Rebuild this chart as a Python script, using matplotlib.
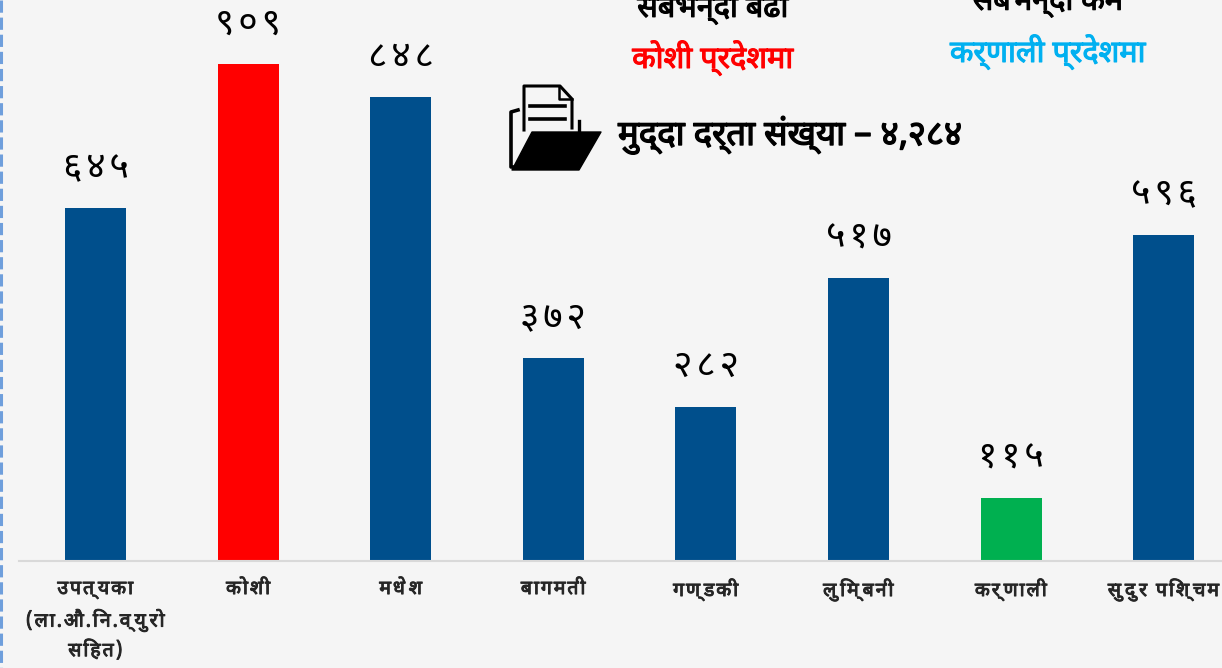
import matplotlib
matplotlib.use("Agg")
import matplotlib.pyplot as plt
import matplotlib.patheffects as pe
from matplotlib.lines import Line2D
from matplotlib.patches import Polygon

W, H = 1222, 668
BG = "#F5F5F5"
plt.rcParams["font.family"] = ["Noto Sans Devanagari", "Noto Sans", "DejaVu Sans"]

categories = ["उपत्यका\n(ला.औ.नि.व्युरो\nसहित)", "कोशी", "मधेश", "बागमती",
              "गण्डकी", "लुम्बिनी", "कर्णाली", "सुदुर पश्चिम"]
values = [645, 909, 848, 372, 282, 517, 115, 596]
bar_colors = ["#004F8C", "#FF0000", "#004F8C", "#004F8C",
              "#004F8C", "#004F8C", "#00B050", "#004F8C"]
title_text = "मुद्दा दर्ता संख्या – ४,२८४"
most_text = ["सबभन्दा बढी", "कोशी प्रदेशमा"]
least_text = ["सबभन्दा कम", "कर्णाली प्रदेशमा"]

DIGITS = str.maketrans("0123456789", "०१२३४५६७८९")
CONS = set("कखगघङचछजझञटठडढणतथदधनपफबभमयरलवशषसह")
HALANT = "्"


def visual(s):
    # matplotlib does no shaping, so put the i-matra in front of its cluster
    out = []
    for c in s:
        if c == "ि" and out:
            j = len(out) - 1
            while j >= 2 and out[j - 1] == HALANT and out[j - 2] in CONS:
                j -= 2
            out.insert(j, c)
        else:
            out.append(c)
    return "".join(out)


def spaced(s):
    return "\u200a".join(s)


def heavy(t, color, lw=0.8):
    # the Devanagari face has no bold here, thicken it with a stroke
    t.set_path_effects([pe.withStroke(linewidth=lw, foreground=color)])
    return t


fig = plt.figure(figsize=(W / 100, H / 100), dpi=100, facecolor=BG)
ax = fig.add_axes([19 / W, (H - 561) / H, (W - 19) / W, 561 / H])
ax.set_facecolor("none")
x = list(range(len(values)))
ax.bar(x, values, width=0.40, color=bar_colors)
ax.set_xlim(-0.5013, 7.382)
ax.set_ylim(0, 1026)
for s in ["top", "left", "right"]:
    ax.spines[s].set_visible(False)
ax.spines["bottom"].set_color("#D9D9D9")
ax.spines["bottom"].set_linewidth(1.5)
ax.set_yticks([])
ax.set_xticks(x)
ax.set_xticklabels([spaced(visual(c)).replace("\u200a\n\u200a", "\n") for c in categories],
                   fontsize=14, color="#262626", linespacing=1.62)
ax.tick_params(axis="x", length=0, pad=13)
for t in ax.get_xticklabels():
    heavy(t, "#262626", 0.7)

for xi, v in zip(x, values):
    ax.annotate(spaced(str(v).translate(DIGITS)), (xi, v), xytext=(0, 15.5),
                textcoords="offset points", ha="center", va="bottom",
                fontsize=27, color="black")

# overlay in pixel coordinates for the call-out texts and the folder icon
ov = fig.add_axes([0, 0, 1, 1])
ov.set_xlim(0, W)
ov.set_ylim(H, 0)
ov.axis("off")
ov.patch.set_alpha(0)

heavy(ov.text(713, 7, most_text[0], ha="center", va="center", fontsize=22, color="black"), "black")
heavy(ov.text(713, 58, most_text[1], ha="center", va="center", fontsize=22, color="#FF0000"), "#FF0000")
heavy(ov.text(1048, 2, least_text[0], ha="center", va="center", fontsize=22, color="black"), "black")
heavy(ov.text(1048, 52, least_text[1], ha="center", va="center", fontsize=22, color="#00B0F0"), "#00B0F0")
heavy(ov.text(618, 135, title_text, ha="left", va="center", fontsize=25, color="black"), "black", 1.0)

# folder icon
paper = [(524, 130), (524, 86), (560, 86), (572, 99), (572, 128)]
ov.add_line(Line2D(*zip(*paper), color="black", lw=2.2))
ov.add_line(Line2D([559, 559, 572], [86, 99, 99], color="black", lw=1.8))
ov.add_line(Line2D([530, 565], [106, 106], color="black", lw=2.6))
ov.add_line(Line2D([530, 565], [119, 119], color="black", lw=2.6))
ov.add_line(Line2D([518, 511, 511, 516], [110, 112, 167, 167], color="black", lw=2.6))
ov.add_line(Line2D([579, 579], [121, 133], color="black", lw=2.4))
ov.add_patch(Polygon([(532, 132), (601, 132), (579, 170), (512, 170)], closed=True,
                     facecolor="black", edgecolor="black", joinstyle="round"))

# dashed blue edge of the slide
ov.add_line(Line2D([1, 1], [0, H], color="#6F9FDC", lw=2.2, linestyle=(0, (4, 1.6))))

fig.savefig("out.png", dpi=100, facecolor=BG)
